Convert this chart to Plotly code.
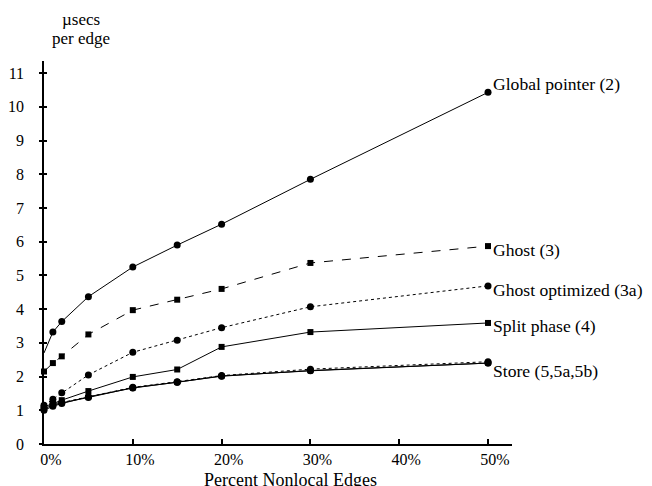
import plotly.graph_objects as go

pct_nonlocal = [0, 1, 2, 5, 10, 15, 20, 30, 50]

global_pointer = [2.7, 3.32, 3.63, 4.37, 5.25, 5.9, 6.52, 7.85, 10.43]
ghost = [2.15, 2.4, 2.6, 3.25, 3.97, 4.28, 4.6, 5.37, 5.87]
ghost_opt = [1.15, 1.33, 1.52, 2.05, 2.72, 3.08, 3.45, 4.07, 4.69]
split_phase = [1.1, 1.2, 1.3, 1.57, 1.99, 2.21, 2.88, 3.32, 3.59]
store_5 = [1.05, 1.15, 1.22, 1.38, 1.67, 1.83, 2.02, 2.17, 2.4]
store_5a = [1.1, 1.2, 1.23, 1.4, 1.68, 1.85, 2.03, 2.22, 2.44]
store_5b = [1.0, 1.12, 1.2, 1.4, 1.66, 1.83, 2.01, 2.18, 2.4]

x_ticks = [0, 10, 20, 30, 40, 50]
x_tick_labels = ["0%", "10%", "20%", "30%", "40%", "50%"]
y_ticks = list(range(0, 12))

labels = ["Global pointer (2)", "Ghost (3)", "Ghost optimized (3a)", "Split phase (4)", "Store (5,5a,5b)"]

FONT = "'Times New Roman', 'Liberation Serif', 'DejaVu Serif', serif"

fig = go.Figure()

def add(x, y, dash, symbol, size, mode="lines+markers"):
    fig.add_trace(go.Scatter(
        x=x, y=y, mode=mode,
        line=dict(color="black", width=1, dash=dash),
        marker=dict(symbol=symbol, size=size, color="black"),
        cliponaxis=False, showlegend=False, hoverinfo="skip"))

# Global pointer: line from the axis, markers from the first nonzero point
add(pct_nonlocal, global_pointer, "solid", "circle", 7, mode="lines")
add(pct_nonlocal[1:], global_pointer[1:], "solid", "circle", 7, mode="markers")
add(pct_nonlocal, ghost, "dash", "square", 6)
add(pct_nonlocal, ghost_opt, "dot", "circle", 7)
add(pct_nonlocal, split_phase, "solid", "square", 6)
add(pct_nonlocal, store_5a, "dot", "circle", 7)
add(pct_nonlocal, store_5, "solid", "circle", 7)
add(pct_nonlocal, store_5b, "solid", "circle", 7)

# series labels at the last point
series_last = [global_pointer[-1], ghost[-1], ghost_opt[-1], split_phase[-1], store_5[-1]]
label_shift = [8, -4, -4, -3, -8]
for lab, yv, ys in zip(labels, series_last, label_shift):
    fig.add_annotation(x=pct_nonlocal[-1], y=yv, text=lab, showarrow=False,
                       xanchor="left", yanchor="middle", xshift=3, yshift=ys,
                       font=dict(family=FONT, size=17.6, color="black"))

# axis titles
fig.add_annotation(xref="paper", yref="paper", x=0.08, y=1.0, yshift=42,
                   text="µsecs", showarrow=False, xanchor="center", yanchor="middle",
                   font=dict(family=FONT, size=17, color="black"))
fig.add_annotation(xref="paper", yref="paper", x=0.08, y=1.0, yshift=23,
                   text="per edge", showarrow=False, xanchor="center", yanchor="middle",
                   font=dict(family=FONT, size=17, color="black"))
fig.add_annotation(xref="paper", yref="paper", x=0.526, y=0.0, yshift=-36,
                   text="Percent Nonlocal Edges", showarrow=False, xanchor="center", yanchor="middle",
                   font=dict(family=FONT, size=18, color="black"))

# the page body has an 8px margin, so the figure is sized to end at the window edge
fig.update_layout(
    width=644, height=478,
    margin=dict(l=36, r=140, t=53, b=42, autoexpand=False),
    paper_bgcolor="white", plot_bgcolor="white",
    font=dict(family=FONT, size=16, color="black"),
    xaxis=dict(range=[0, 52.7], tickvals=x_ticks, ticktext=x_tick_labels, automargin=False,
               showgrid=False, zeroline=False, showline=True, linecolor="black", linewidth=1.5,
               ticks="inside", ticklen=5, tickwidth=1.5, tickcolor="black",
               ticklabelshift=7, ticklabelstandoff=0,
               tickfont=dict(family=FONT, size=16, color="black")),
    yaxis=dict(range=[0, 11.36], tickvals=y_ticks, automargin=False,
               showgrid=False, zeroline=False, showline=True, linecolor="black", linewidth=1.5,
               ticks="outside", ticklen=3, tickwidth=1.5, tickcolor="black",
               ticklabelstandoff=12,
               tickfont=dict(family=FONT, size=16, color="black")),
    yaxis2=dict(range=[0, 11.36], tickvals=y_ticks, overlaying="y", side="left", automargin=False,
                showgrid=False, zeroline=False, showline=False, showticklabels=False,
                ticks="inside", ticklen=3, tickwidth=1.5, tickcolor="black"),
)

# invisible trace to activate the overlay axis for crossing ticks
fig.add_trace(go.Scatter(x=[None], y=[None], yaxis="y2", showlegend=False, hoverinfo="skip"))

fig.write_html("out.html")
